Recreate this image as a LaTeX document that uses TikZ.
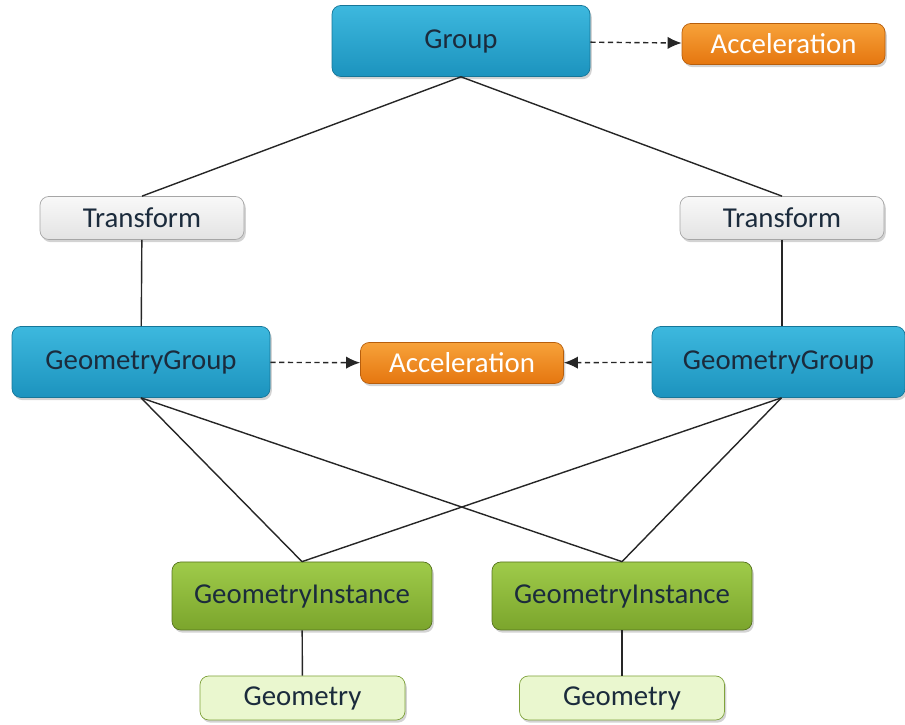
\documentclass[tikz,border=0pt]{standalone}
\usepackage{fontspec}
\setmainfont{Carlito}
\usepackage{tikz}
\usetikzlibrary{arrows.meta,shadows,positioning}

\definecolor{blueA}{HTML}{3DB8DE}
\definecolor{blueB}{HTML}{1C93BE}
\definecolor{orangeA}{HTML}{F7A23A}
\definecolor{orangeB}{HTML}{E5760F}
\definecolor{greenA}{HTML}{9FCB4A}
\definecolor{greenB}{HTML}{7BA52C}
\definecolor{lgreen}{HTML}{EAF7CF}
\definecolor{txt}{HTML}{1B2B3C}

\tikzset{
  box/.style={rectangle,rounded corners=5pt,align=center,inner sep=0pt,
    font=\fontsize{16.4}{19}\selectfont,text=txt,
    drop shadow={shadow xshift=1pt,shadow yshift=-1.5pt,opacity=0.35}},
  grpbox/.style={box,minimum width=5.16cm,minimum height=1.42cm,
    top color=blueA,bottom color=blueB,draw=blueB!80!black},
  accbox/.style={box,minimum width=4.06cm,minimum height=0.82cm,
    top color=orangeA,bottom color=orangeB,draw=orangeB!80!black,text=white},
  xfbox/.style={box,minimum width=4.08cm,minimum height=0.86cm,
    top color=gray!5,bottom color=gray!22,draw=gray!70},
  instbox/.style={box,minimum width=5.2cm,minimum height=1.36cm,
    top color=greenA,bottom color=greenB,draw=greenB!70!black},
  geombox/.style={box,minimum width=4.1cm,minimum height=0.88cm,
    fill=lgreen,draw=greenA!80!black},
  link/.style={draw=black!85,line width=0.8pt},
  ref/.style={->,densely dashed,draw=black!85,line width=0.8pt}
}

\begin{document}
\begin{tikzpicture}[>={Latex[length=8pt,width=7pt]}]
\useasboundingbox (0,0) rectangle (18.1,14.5);

\node (grp) [grpbox] at (9.22,13.68) {Group};
\node (acc1) [accbox] at (15.67,13.62) {Acceleration};

\node (xfl) [xfbox] at (2.84,10.14) {Transform};
\node (xfr) [xfbox] at (15.64,10.14) {Transform};

\node (ggl) [grpbox] at (2.82,7.26) {GeometryGroup};
\node (acc2) [accbox] at (9.24,7.24) {Acceleration};
\node (ggr) [grpbox,minimum width=5.06cm] at (15.57,7.26) {GeometryGroup};

\node (gil) [instbox] at (6.04,2.58) {GeometryInstance};
\node (gir) [instbox] at (12.44,2.58) {GeometryInstance};

\node (gl) [geombox] at (6.05,0.54) {Geometry};
\node (gr) [geombox] at (12.44,0.54) {Geometry};

% tree links
\draw[link] (grp.south) -- (xfl.north);
\draw[link] (grp.south) -- (xfr.north);
\draw[link] (xfl) -- (ggl);
\draw[link] (xfr) -- (ggr.north -| xfr.south);
\draw[link] (ggl.south) -- (gil.north);
\draw[link] (ggl.south) -- (gir.north);
\draw[link] ([xshift=0.06cm]ggr.south) -- (gil.north);
\draw[link] ([xshift=0.06cm]ggr.south) -- (gir.north);
\draw[link] (gil) -- (gl);
\draw[link] (gir) -- (gr);

% acceleration references
\draw[ref] (grp) -- (acc1);
\draw[ref] (ggl) -- (acc2);
\draw[ref] (ggr) -- (acc2);
\end{tikzpicture}
\end{document}
